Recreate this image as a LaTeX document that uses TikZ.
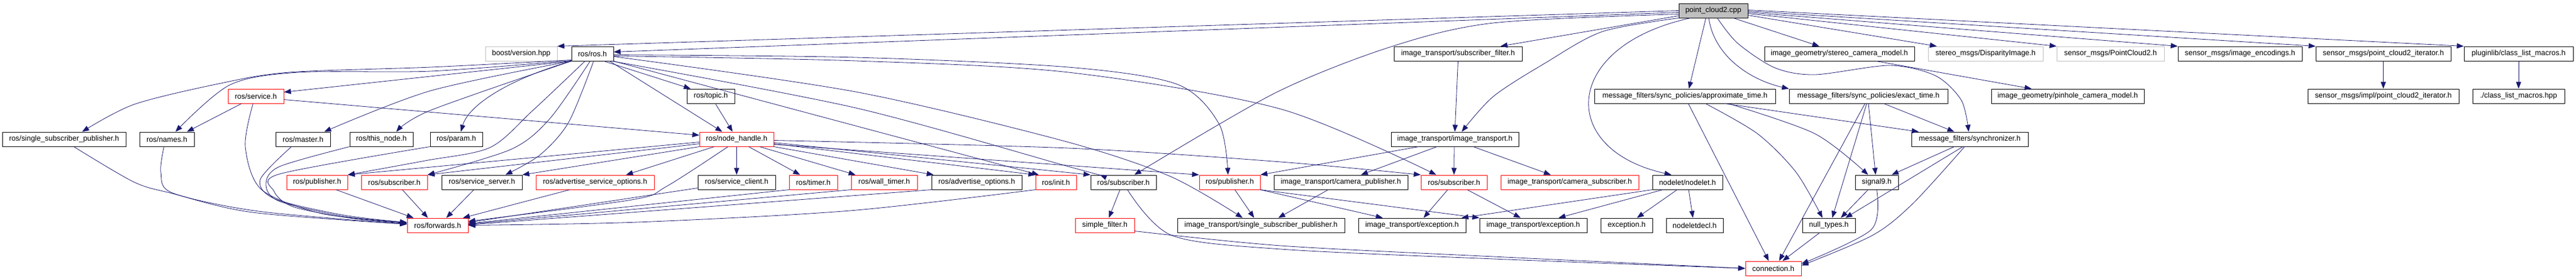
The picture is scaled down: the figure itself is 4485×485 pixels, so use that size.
\documentclass[tikz,border=0pt]{standalone}
\usepackage{fontspec}
\setmainfont{Liberation Sans}
\usetikzlibrary{arrows.meta}
\definecolor{edgecol}{HTML}{191970}
\definecolor{graybord}{HTML}{BFBFBF}
\definecolor{rootfill}{HTML}{BFBFBF}
\definecolor{redbord}{HTML}{FF0000}
\begin{document}
\begin{tikzpicture}[x=1pt,y=-1pt,
  box/.style={draw=black, fill=white, line width=1pt, minimum height=25pt, inner sep=0pt,
    font=\fontsize{12.9}{15}\selectfont, text=black},
  rednode/.style={draw=redbord},
  graynode/.style={draw=graybord},
  rootnode/.style={fill=rootfill},
  e/.style={draw=edgecol, line width=0.8pt, -{Triangle[length=12pt,width=9pt]}},
  sm/.style={smooth, tension=0.5}]
\fill[white] (0,0) rectangle (4485,485);
\useasboundingbox (0,0) rectangle (4485,485);
% row 0
\node[box,rootnode,minimum width=120pt] (pc) at (2983,18.5) {point\_cloud2.cpp};
% row 1
\node[box,graynode,minimum width=125pt] (boost) at (907.5,93.5) {boost/version.hpp};
\node[box,minimum width=73pt] (rosh) at (1031.5,93.5) {ros/ros.h};
\node[box,minimum width=223pt] (itsf) at (2538.5,93.5) {image\_transport/subscriber\_filter.h};
\node[box,minimum width=261pt] (stereo) at (3202.5,93.5) {image\_geometry/stereo\_camera\_model.h};
\node[box,graynode,minimum width=200pt] (disp) at (3457,93.5) {stereo\_msgs/DisparityImage.h};
\node[box,graynode,minimum width=187pt] (pctwo) at (3674.5,93.5) {sensor\_msgs/PointCloud2.h};
\node[box,minimum width=216pt] (enc) at (3900,93.5) {sensor\_msgs/image\_encodings.h};
\node[box,minimum width=235pt] (pcit) at (4149.5,93.5) {sensor\_msgs/point\_cloud2\_iterator.h};
\node[box,minimum width=190pt] (plug) at (4385,93.5) {pluginlib/class\_list\_macros.h};
% row 2
\node[box,rednode,minimum width=97pt] (service) at (445.5,167.5) {ros/service.h};
\node[box,minimum width=83pt] (topic) at (1237.5,167.5) {ros/topic.h};
\node[box,minimum width=315pt] (approx) at (2933.5,167.5) {message\_filters/sync\_policies/approximate\_time.h};
\node[box,minimum width=276pt] (exact) at (3253,167.5) {message\_filters/sync\_policies/exact\_time.h};
\node[box,minimum width=266pt] (pinhole) at (3600,167.5) {image\_geometry/pinhole\_camera\_model.h};
\node[box,minimum width=263pt] (pcimpl) at (4149.5,167.5) {sensor\_msgs/impl/point\_cloud2\_iterator.h};
\node[box,minimum width=160pt] (clm) at (4385,167.5) {./class\_list\_macros.hpp};
% row 3
\node[box,minimum width=215pt] (ssp) at (111.5,242.5) {ros/single\_subscriber\_publisher.h};
\node[box,minimum width=95pt] (names) at (290.5,242.5) {ros/names.h};
\node[box,minimum width=95pt] (master) at (527.5,242.5) {ros/master.h};
\node[box,minimum width=110pt] (thisnode) at (664,242.5) {ros/this\_node.h};
\node[box,minimum width=91pt] (param) at (794.5,242.5) {ros/param.h};
\node[box,rednode,minimum width=129pt] (nh) at (1282.5,242.5) {ros/node\_handle.h};
\node[box,minimum width=222pt] (it) at (2533,242.5) {image\_transport/image\_transport.h};
\node[box,minimum width=203pt] (sync) at (3429.5,242.5) {message\_filters/synchronizer.h};
% row 4
\node[box,rednode,minimum width=106pt] (pubone) at (552,317.5) {ros/publisher.h};
\node[box,rednode,minimum width=115pt] (subone) at (686.5,317.5) {ros/subscriber.h};
\node[box,minimum width=140pt] (ssrv) at (839,317.5) {ros/service\_server.h};
\node[box,rednode,minimum width=206pt] (aso) at (1036,317.5) {ros/advertise\_service\_options.h};
\node[box,minimum width=135pt] (sclient) at (1282.5,317.5) {ros/service\_client.h};
\node[box,rednode,minimum width=84pt] (timer) at (1416,317.5) {ros/timer.h};
\node[box,rednode,minimum width=115pt] (wtimer) at (1539.5,317.5) {ros/wall\_timer.h};
\node[box,minimum width=157pt] (advo) at (1700.5,317.5) {ros/advertise\_options.h};
\node[box,rednode,minimum width=71pt] (init) at (1838.5,317.5) {ros/init.h};
\node[box,minimum width=114pt] (subtwo) at (1956,317.5) {ros/subscriber.h};
\node[box,rednode,minimum width=106pt] (pubtwo) at (2141,317.5) {ros/publisher.h};
\node[box,minimum width=233pt] (campub) at (2334.5,317.5) {image\_transport/camera\_publisher.h};
\node[box,rednode,minimum width=115pt] (subthree) at (2531.5,317.5) {ros/subscriber.h};
\node[box,rednode,minimum width=240pt] (camsub) at (2733,317.5) {image\_transport/camera\_subscriber.h};
\node[box,minimum width=122pt] (nodelet) at (2938,317.5) {nodelet/nodelet.h};
\node[box,minimum width=75pt] (signal) at (3267.5,317.5) {signal9.h};
% row 5
\node[box,rednode,minimum width=106pt] (fwd) at (762,392.5) {ros/forwards.h};
\node[box,rednode,minimum width=103pt] (sfilter) at (1923.5,392.5) {simple\_filter.h};
\node[box,minimum width=291pt] (itssp) at (2195.5,392.5) {image\_transport/single\_subscriber\_publisher.h};
\node[box,minimum width=187pt] (excone) at (2458.5,392.5) {image\_transport/exception.h};
\node[box,minimum width=187pt] (exctwo) at (2669.5,392.5) {image\_transport/exception.h};
\node[box,minimum width=90pt] (exc) at (2832,392.5) {exception.h};
\node[box,minimum width=99pt] (ndecl) at (2950.5,392.5) {nodeletdecl.h};
\node[box,minimum width=92pt] (nullt) at (3184,392.5) {null\_types.h};
% row 6
\node[box,rednode,minimum width=97pt] (conn) at (3087.5,467.5) {connection.h};

% ---- edges from point_cloud2.cpp
\draw[e] (pc.west) -- (boost.north east);
\draw[e] ([yshift=-3pt]pc.west) -- ([yshift=3pt]rosh.east);
\draw[e] ([yshift=-9pt]pc.west) -- ([xshift=74pt]itsf.north);
\draw[e] plot[sm] coordinates {([yshift=-6pt]pc.west) (2600,40) (2420,82) (2220,162) ([xshift=19pt]subtwo.north)};
\draw[e] plot[sm] coordinates {(pc.south west) (2790,55) (2690,110) (2600,168) ([xshift=12pt]it.north)};
\draw[e] ([xshift=-13pt]pc.south) -- ([xshift=7pt]approx.north);
\draw[e] ([xshift=-40pt]pc.south) .. controls (2720,80) and (2710,260) .. ([xshift=-28pt]nodelet.north);
\draw[e] ([xshift=-8pt]pc.south) .. controls (2985,100) and (3050,140) .. (exact.north west);
\draw[e] ([xshift=35pt]pc.south) -- ([xshift=-35pt]stereo.north);
\draw[e] plot[sm] coordinates {([xshift=7pt]pc.south) (3025,75) (3090,118) (3160,130) (3290,114) (3370,132) (3415,175) ([xshift=-2pt]sync.north)};
\draw[e] ([yshift=-8pt]pc.east) -- ([xshift=-85pt]disp.north);
\draw[e] ([yshift=-5pt]pc.east) -- (pctwo.north west);
\draw[e] ([yshift=-3pt]pc.east) -- (enc.north west);
\draw[e] ([yshift=-1pt]pc.east) -- (pcit.north west);
\draw[e] ([yshift=1pt]pc.east) -- (plug.north west);
\draw[e] (pcit.south) -- (pcimpl.north);
\draw[e] (plug.south) -- (clm.north);
\draw[e] ([xshift=64pt]stereo.south) -- ([xshift=-63pt]pinhole.north);

% ---- edges from ros/ros.h
\draw[e] (rosh.south west) -- ([yshift=7pt]service.east);
\draw[e] plot[sm] coordinates {([yshift=2pt]rosh.south west) (750,117) (503,126) (380,146) (233,182) ([xshift=31.5pt]ssp.north)};
\draw[e] plot[sm] coordinates {([yshift=1pt]rosh.south west) (750,124) (520,126) (400,148) ([xshift=15pt]names.north)};
\draw[e] plot[sm] coordinates {(rosh.south west) (750,158) ([xshift=37pt]master.north)};
\draw[e] plot[sm] coordinates {(rosh.south west) (750,192) ([xshift=26pt]thisnode.north)};
\draw[e] (rosh.south west) .. controls (880,140) and (815,185) .. ([xshift=8pt]param.north);
\draw[e] ([xshift=20pt]rosh.south) -- ([xshift=-35pt]topic.north);
\draw[e] ([xshift=30pt]rosh.south) -- ([xshift=-25pt]nh.north);
\draw[e] plot[sm] coordinates {([xshift=-13pt]rosh.south) (927,193) (853,257) (740,280) (pubone.north east)};
\draw[e] plot[sm] coordinates {([xshift=-4pt]rosh.south) (957,207) (890,260) (subone.north east)};
\draw[e] plot[sm] coordinates {([xshift=2pt]rosh.south) (990,213) (940,270) ([xshift=41pt]ssrv.north)};
\draw[e] plot[sm] coordinates {([xshift=-3pt]rosh.south east) (1490,188) (1860,290) ([xshift=-41pt]subtwo.north)};
\draw[e] (rosh.south east) -- ([xshift=-30pt]init.north);
\draw[e] plot[sm] coordinates {([yshift=-5pt]rosh.east) (1490,160) (1850,245) (2037,307) ([xshift=-32pt]itssp.north)};
\draw[e] plot[sm] coordinates {([yshift=-2pt]rosh.east) (1490,100) (1860,117) (2050,147) (2123,217) ([xshift=-3pt]pubtwo.north)};
\draw[e] plot[sm] coordinates {([yshift=-4pt]rosh.east) (1490,106) (1860,126) (2230,190) ([xshift=-31pt]subthree.north)};
\draw[e] ([xshift=8pt]topic.south) -- ([xshift=-7pt]nh.north);

% ---- ros/service.h
\draw[e] ([xshift=-25pt]service.south) -- ([xshift=35pt]names.north);
\draw[e] ([yshift=-6pt]service.east) -- ([yshift=7pt]nh.west);
\draw[e] plot[sm] coordinates {([xshift=-5pt]service.south) (427,255) (455,330) (560,372) ([yshift=4pt]fwd.west)};

% ---- into ros/forwards.h
\draw[e] plot[sm] coordinates {([xshift=17pt]ssp.south) (233,317) (300,337) (440,370) ([yshift=2pt]fwd.west)};
\draw[e] plot[sm] coordinates {([xshift=-5pt]names.south) (280,300) (300,336) (450,368) ([yshift=2pt]fwd.west)};
\draw[e] plot[sm] coordinates {([xshift=-20pt]master.south) (453,313) (480,347) (600,375) ([yshift=5pt]fwd.west)};
\draw[e] plot[sm] coordinates {(thisnode.south west) (487,290) (463,320) (485,350) (600,377) ([yshift=5pt]fwd.west)};
\draw[e] plot[sm] coordinates {(param.south west) (487,303) (477,333) (510,360) (610,380) ([yshift=3pt]fwd.west)};
\draw[e] ([xshift=33pt]pubone.south) -- ([xshift=-42pt]fwd.north);
\draw[e] ([xshift=14pt]subone.south) -- ([xshift=-17pt]fwd.north);
\draw[e] ([xshift=-14pt]ssrv.south) -- ([xshift=15pt]fwd.north);
\draw[e] ([xshift=-44pt]aso.south) -- ([xshift=44pt]fwd.north);
\draw[e] plot[sm] coordinates {([xshift=-15pt]nh.south) (1160,325) (1100,348) ([yshift=7pt]fwd.east)};
\draw[e] ([yshift=-10pt]sclient.west) -- ([yshift=5pt]fwd.east);
\draw[e] (timer.south west) -- ([yshift=3pt]fwd.east);
\draw[e] (wtimer.south west) -- ([yshift=2pt]fwd.east);
\draw[e] (advo.south west) -- ([yshift=1pt]fwd.east);
\draw[e] plot[sm] coordinates {(init.south west) (1480,367) (1110,387) (fwd.east)};

% ---- ros/node_handle.h
\draw[e] ([yshift=-5pt]nh.west) -- (pubone.north east);
\draw[e] ([yshift=-8pt]nh.west) -- (subone.north east);
\draw[e] (nh.south west) -- (ssrv.north east);
\draw[e] ([xshift=-39pt]nh.south) -- ([xshift=54pt]aso.north);
\draw[e] (nh.south) -- (sclient.north);
\draw[e] ([xshift=21pt]nh.south) -- ([xshift=-23pt]timer.north);
\draw[e] ([xshift=40pt]nh.south) -- ([xshift=-50pt]wtimer.north);
\draw[e] (nh.south east) -- ([xshift=-75pt]advo.north);
\draw[e] ([yshift=-8pt]nh.east) -- (init.north west);
\draw[e] ([yshift=-6pt]nh.east) -- (subtwo.north west);
\draw[e] ([yshift=-9pt]nh.east) -- (pubtwo.north west);
\draw[e] plot[sm] coordinates {([yshift=-2pt]nh.east) (1860,258) (2230,282) (subthree.north west)};

% ---- image_transport
\draw[e] (itsf.south) -- (it.north);
\draw[e] ([xshift=-63pt]it.south) -- (pubtwo.north east);
\draw[e] ([xshift=-31pt]it.south) -- ([xshift=35pt]campub.north);
\draw[e] ([xshift=-1pt]it.south) -- (subthree.north);
\draw[e] ([xshift=32pt]it.south) -- ([xshift=-33pt]camsub.north);
\draw[e] ([xshift=-22pt]campub.south) -- ([xshift=30pt]itssp.north);
\draw[e] ([xshift=9pt]pubtwo.south) -- ([xshift=-12pt]itssp.north);
\draw[e] (pubtwo.south east) -- ([xshift=-51pt]excone.north);
\draw[e] (pubtwo.south east) -- (exctwo.north west);
\draw[e] ([xshift=-11pt]subthree.south) -- ([xshift=20pt]excone.north);
\draw[e] ([xshift=23pt]subthree.south) -- ([xshift=-22pt]exctwo.north);

% ---- nodelet
\draw[e] (nodelet.south west) -- ([xshift=86pt]excone.north);
\draw[e] ([xshift=-43pt]nodelet.south) -- ([xshift=44pt]exctwo.north);
\draw[e] ([xshift=-18pt]nodelet.south) -- ([xshift=18pt]exc.north);
\draw[e] ([xshift=2pt]nodelet.south) -- ([xshift=-3pt]ndecl.north);

% ---- message_filters
\draw[e] ([xshift=-6pt]subtwo.south) -- ([xshift=7pt]sfilter.north);
\draw[e] plot[sm] coordinates {([xshift=7pt]subtwo.south) (2040,410) (2230,434) (2600,451) (conn.west)};
\draw[e] plot[sm] coordinates {([yshift=-10pt]sfilter.east) (2230,428) (2600,447) (conn.west)};
\draw[e] ([xshift=70pt]approx.south) -- ([xshift=-89pt]sync.north);
\draw[e] ([xshift=6pt]approx.south) -- ([xshift=-8pt]conn.north);
\draw[e] plot[sm] coordinates {([xshift=36pt]approx.south) (3060,233) (3127,300) ([xshift=-11pt]nullt.north)};
\draw[e] plot[sm] coordinates {([xshift=76pt]approx.south) (3160,233) ([xshift=-15pt]signal.north)};
\draw[e] ([xshift=-6pt]exact.south) -- ([xshift=10pt]conn.north);
\draw[e] ([xshift=-3pt]exact.south) -- ([xshift=6pt]nullt.north);
\draw[e] (exact.south) -- ([xshift=-2pt]signal.north);
\draw[e] ([xshift=27pt]exact.south) -- ([xshift=-27pt]sync.north);
\draw[e] ([xshift=-27pt]sync.south) -- ([xshift=26pt]signal.north);
\draw[e] ([xshift=-12pt]sync.south) -- ([xshift=29pt]nullt.north);
\draw[e] plot[sm] coordinates {([xshift=-9pt]sync.south) (3330,355) (3260,410) ([yshift=5pt]conn.east)};
\draw[e] ([xshift=-15pt]signal.south) -- ([xshift=21pt]nullt.north);
\draw[e] plot[sm] coordinates {(signal.south) (3258,400) ([yshift=8pt]conn.east)};
\draw[e] ([xshift=-16pt]nullt.south) -- ([xshift=16pt]conn.north);
\end{tikzpicture}
\end{document}
